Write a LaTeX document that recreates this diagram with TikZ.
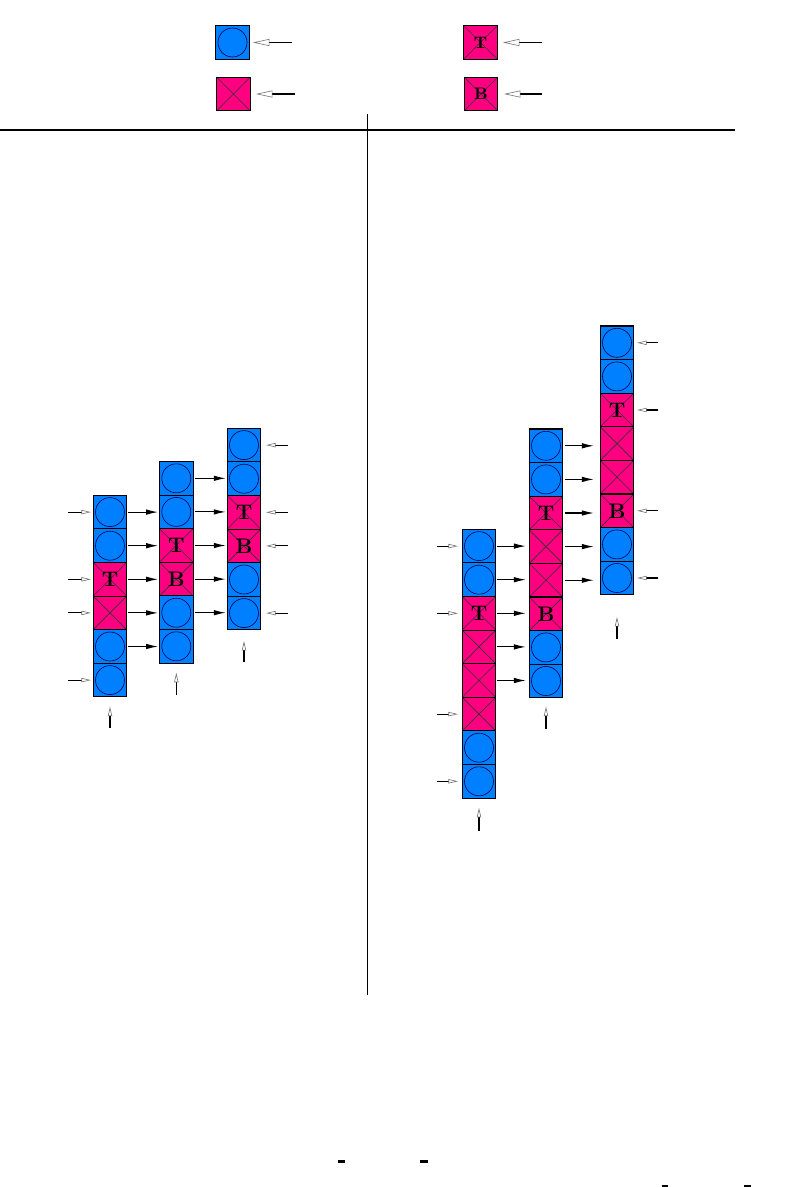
\documentclass[tikz,border=0pt]{standalone}
\usetikzlibrary{arrows.meta,calc}
\definecolor{cellblue}{RGB}{0,128,255}
\definecolor{cellpink}{RGB}{255,0,128}
\tikzset{
  cell/.style={draw,line width=0.6pt,minimum size=0.672cm,inner sep=0pt,outer sep=0pt,/utils/exec=\def\celltext{}},
  kind b/.style={cell,fill=cellblue,path picture={\draw[line width=0.35pt,black!70!blue] (path picture bounding box.center) circle (0.29cm);}},
  kind X/.style={cell,fill=cellpink,path picture={\draw[line width=0.35pt,black!80] (path picture bounding box.north west)--(path picture bounding box.south east) (path picture bounding box.north east)--(path picture bounding box.south west);}},
  kind T/.style={kind X,font=\fontsize{12}{14}\bfseries,/utils/exec=\def\celltext{T}},
  kind B/.style={kind X,font=\fontsize{12}{14}\bfseries,/utils/exec=\def\celltext{B}},
  fwd/.style={line width=0.6pt,-{Latex[length=2.4mm,width=1.1mm]}},
  hollow/.style={line width=0.6pt,-{Triangle[open,length=1.9mm,width=0.85mm,line width=0.35pt,color=black!55]}},
  bighollow/.style={line width=0.6pt,-{Triangle[open,length=3.3mm,width=1.4mm,line width=0.35pt,color=black!55]}}
}
\begin{document}
\begin{tikzpicture}[x=0.02cm,y=-0.02cm]
\useasboundingbox (0,0) rectangle (785,1187);
\draw[line width=0.6pt] (0,130) -- (735,130);
\draw[line width=0.6pt] (367.3,114) -- (367.3,995);
\node[kind b] (kb) at (232.5,42.5) {\celltext};
\node[kind X] (kx) at (233.5,94) {\celltext};
\node[kind T,font=\fontsize{9.5}{11}\bfseries] (kt) at (480.5,42.5) {\celltext};
\node[kind B,font=\fontsize{9.5}{11}\bfseries] (kbt) at (481,94) {\celltext};
\draw[bighollow,shorten >=2.1pt] ($(kb.east)+(42.7,0)$) -- (kb.east);
\draw[bighollow,shorten >=3.2pt] ($(kx.east)+(44.7,0)$) -- (kx.east);
\draw[bighollow,shorten >=3.2pt] ($(kt.east)+(44.7,0)$) -- (kt.east);
\draw[bighollow,shorten >=3.5pt] ($(kbt.east)+(44,0)$) -- (kbt.east);
\foreach \c/\x/\y/\cells in {L1/110/495.3/{b,b,T,X,b,b},L2/176.3/461.5/{b,b,T,B,b,b},L3/244/428.3/{b,b,T,B,b,b},R1/479/529.3/{b,b,T,X,X,X,b,b},R2/546/429/{b,b,T,X,X,B,b,b},R3/617/326/{b,b,T,X,X,B,b,b}}
  \foreach \t [count=\k] in \cells
    \node[kind \t] (\c-\k) at (\x,{\y+16.8+33.6*(\k-1)}) {\celltext};
\foreach \k in {1,...,5}{
  \draw[fwd,shorten <=0.8pt,shorten >=0.8pt] (L1-\k.east) -- (L1-\k.east -| L2-1.west);
  \draw[fwd,shorten <=0.8pt,shorten >=0.8pt] (L2-\k.east) -- (L2-\k.east -| L3-1.west);
  \draw[fwd,shorten <=0.8pt,shorten >=1.9pt] (R1-\k.east) -- (R1-\k.east -| R2-1.west);
  \draw[fwd,shorten <=1.3pt,shorten >=3.6pt] (R2-\k.east) -- (R2-\k.east -| R3-1.west);
}
\foreach \k in {1,3,4,6}{
  \draw[hollow,shorten >=1.3pt] ($(L1-\k.west)+(-25,0)$) -- (L1-\k.west);
  \draw[hollow,shorten >=3pt] ($(L3-\k.east)+(27,0)$) -- (L3-\k.east);
}
\foreach \k in {1,3,6,8}{
  \draw[hollow,shorten >=2.4pt] ($(R1-\k.west)+(-25,0)$) -- (R1-\k.west);
  \draw[hollow,shorten >=1.9pt] ($(R3-\k.east)+(24,0)$) -- (R3-\k.east);
}
\foreach \c/\d/\s in {L1-6/31/5.5,L2-6/32/5.5,L3-6/32/6.3,R1-8/33/5.5,R2-8/31/5,R3-8/44/12.6}
  \draw[hollow,shorten >=\s pt] ($(\c.south)+(0,\d)$) -- (\c.south);
\fill (337.7,1160) rectangle (345,1162.5);
\fill (420,1160) rectangle (427.7,1162.5);
\fill (661.7,1185) rectangle (668.3,1187);
\fill (744,1185) rectangle (751,1187);
\end{tikzpicture}
\end{document}
